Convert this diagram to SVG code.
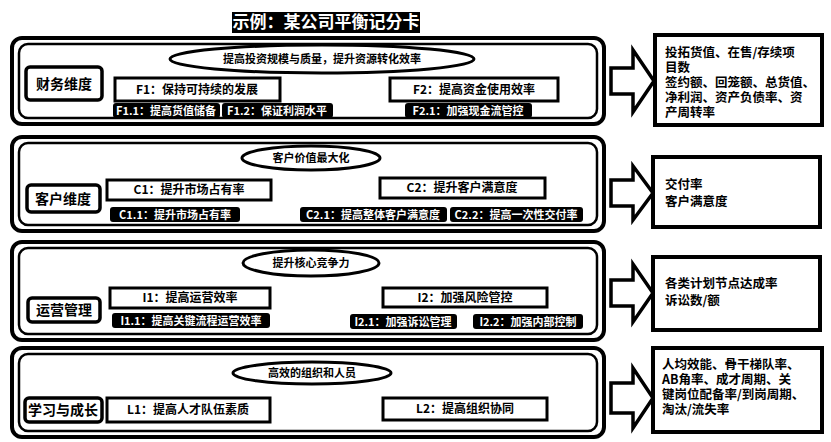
<svg xmlns="http://www.w3.org/2000/svg" width="831" height="442" viewBox="0 0 831 442">
<style>
text{font-family:"Noto Sans CJK SC","Noto Sans",sans-serif;font-weight:bold;fill:#000}
.frame-o{fill:#fff;stroke:#000;stroke-width:4}
.frame-i{fill:none;stroke:#000;stroke-width:2.5}
.lbl{fill:#fff;stroke:#000;stroke-width:3.5}
.lbl-t{font-size:14px;text-anchor:middle}
.box{fill:#fff;stroke:#000;stroke-width:3}
.box-t{font-size:12px;text-anchor:middle}
.ell{fill:#fff;stroke:#000;stroke-width:3}
.ell-t{font-size:11px;text-anchor:middle}
.sub{fill:#000}
.sub-t{font-size:11px;text-anchor:middle;fill:#fff}
.arr{fill:#fff;stroke:#000;stroke-width:3.5;stroke-linejoin:miter}
.kpi{fill:#fff;stroke:#000;stroke-width:4}
.kpi-t{font-size:12.5px}
</style>
<rect width="831" height="442" fill="#fff"/>
<g id="title">
<rect x="232" y="12" width="188" height="21" fill="#000"/>
<text x="326" y="28" style="font-size:17px;text-anchor:middle;fill:#fff">示例：某公司平衡记分卡</text>
</g>

<g id="row-finance">
<rect class="frame-o" x="12" y="38" width="592" height="86" rx="10"/>
<rect class="frame-i" x="19" y="44" width="578" height="74" rx="9"/>
<ellipse class="ell" cx="322" cy="59" rx="152" ry="14"/>
<text class="ell-t" x="322" y="63">提高投资规模与质量，提升资源转化效率</text>
<rect class="lbl" x="26" y="67" width="76" height="33" rx="4"/>
<text class="lbl-t" x="64" y="89">财务维度</text>
<rect class="box" x="115" y="78" width="165" height="23"/>
<text class="box-t" x="197" y="94">F1：保持可持续的发展</text>
<rect class="box" x="390" y="78" width="168" height="23"/>
<text class="box-t" x="474" y="94">F2：提高资金使用效率</text>
<rect class="sub" x="113" y="103" width="107" height="15" rx="3"/>
<text class="sub-t" x="166" y="115">F1.1：提高货值储备</text>
<rect class="sub" x="222" y="103" width="111" height="15" rx="3"/>
<text class="sub-t" x="277" y="115">F1.2：保证利润水平</text>
<rect class="sub" x="405" y="103" width="127" height="15" rx="3"/>
<text class="sub-t" x="468" y="115">F2.1：加强现金流管控</text>
</g>

<g id="row-customer">
<rect class="frame-o" x="12" y="137" width="592" height="94" rx="10"/>
<rect class="frame-i" x="19" y="143" width="578" height="82" rx="9"/>
<ellipse class="ell" cx="311" cy="158" rx="69" ry="12"/>
<text class="ell-t" x="311" y="162">客户价值最大化</text>
<rect class="lbl" x="27" y="185" width="73" height="27" rx="4"/>
<text class="lbl-t" x="63" y="204">客户维度</text>
<rect class="box" x="107" y="180" width="164" height="20"/>
<text class="box-t" x="189" y="194">C1：提升市场占有率</text>
<rect class="box" x="380" y="178" width="165" height="20"/>
<text class="box-t" x="462" y="192">C2：提升客户满意度</text>
<rect class="sub" x="110" y="207" width="130" height="15" rx="3"/>
<text class="sub-t" x="175" y="219">C1.1：提升市场占有率</text>
<rect class="sub" x="300" y="207" width="147" height="15" rx="3"/>
<text class="sub-t" x="373" y="219">C2.1：提高整体客户满意度</text>
<rect class="sub" x="450" y="207" width="133" height="15" rx="3"/>
<text class="sub-t" x="516" y="219">C2.2：提高一次性交付率</text>
</g>

<g id="row-operation">
<rect class="frame-o" x="12" y="242" width="592" height="98" rx="10"/>
<rect class="frame-i" x="19" y="248" width="578" height="86" rx="9"/>
<ellipse class="ell" cx="311" cy="263" rx="68" ry="13"/>
<text class="ell-t" x="311" y="267">提升核心竞争力</text>
<rect class="lbl" x="28" y="298" width="72" height="24" rx="4"/>
<text class="lbl-t" x="64" y="315">运营管理</text>
<rect class="box" x="110" y="288" width="160" height="20"/>
<text class="box-t" x="190" y="302">I1：提高运营效率</text>
<rect class="box" x="383" y="288" width="164" height="19"/>
<text class="box-t" x="465" y="302">I2：加强风险管控</text>
<rect class="sub" x="112" y="313" width="158" height="15" rx="3"/>
<text class="sub-t" x="191" y="325">I1.1：提高关键流程运营效率</text>
<rect class="sub" x="350" y="314" width="107" height="15" rx="3"/>
<text class="sub-t" x="403" y="326">I2.1：加强诉讼管理</text>
<rect class="sub" x="473" y="314" width="110" height="15" rx="3"/>
<text class="sub-t" x="528" y="326">I2.2：加强内部控制</text>
</g>

<g id="row-learning">
<rect class="frame-o" x="12" y="348" width="592" height="89" rx="10"/>
<rect class="frame-i" x="19" y="354" width="578" height="77" rx="9"/>
<ellipse class="ell" cx="312" cy="373" rx="79" ry="11"/>
<text class="ell-t" x="312" y="377">高效的组织和人员</text>
<rect class="lbl" x="25" y="398" width="77" height="24" rx="4"/>
<text class="lbl-t" x="63" y="415">学习与成长</text>
<rect class="box" x="107" y="398" width="163" height="24"/>
<text class="box-t" x="188" y="414">L1：提高人才队伍素质</text>
<rect class="box" x="383" y="398" width="164" height="22"/>
<text class="box-t" x="465" y="413">L2：提高组织协同</text>
</g>

<g id="connectors">
<path class="arr" d="M611,68 H633 V50 L654,81 L633,112 V94 H611 Z"/>
<path class="arr" d="M611,180 H633 V166 L653,193 L633,220 V206 H611 Z"/>
<path class="arr" d="M611,280 H633 V264 L653,293 L633,322 V306 H611 Z"/>
<path class="arr" d="M611,383 H633 V368 L653,398 L633,428 V413 H611 Z"/>
</g>

<g id="kpi-finance">
<rect class="kpi" x="655" y="35" width="167" height="90"/>
<text class="kpi-t"><tspan x="665" y="57">投拓货值、在售/存续项</tspan><tspan x="665" y="72">目数</tspan><tspan x="665" y="87">签约额、回笼额、总货值、</tspan><tspan x="665" y="102">净利润、资产负债率、资</tspan><tspan x="665" y="117">产周转率</tspan></text>
</g>
<g id="kpi-customer">
<rect class="kpi" x="653" y="157" width="167" height="70"/>
<text class="kpi-t"><tspan x="665" y="189">交付率</tspan><tspan x="665" y="206">客户满意度</tspan></text>
</g>
<g id="kpi-operation">
<rect class="kpi" x="653" y="257" width="167" height="73"/>
<text class="kpi-t"><tspan x="665" y="288">各类计划节点达成率</tspan><tspan x="665" y="305">诉讼数/额</tspan></text>
</g>
<g id="kpi-learning">
<rect class="kpi" x="653" y="348" width="169" height="84"/>
<text class="kpi-t"><tspan x="662" y="369">人均效能、骨干梯队率、</tspan><tspan x="662" y="384">AB角率、成才周期、关</tspan><tspan x="662" y="399">键岗位配备率/到岗周期、</tspan><tspan x="662" y="414">淘汰/流失率</tspan></text>
</g>
</svg>
